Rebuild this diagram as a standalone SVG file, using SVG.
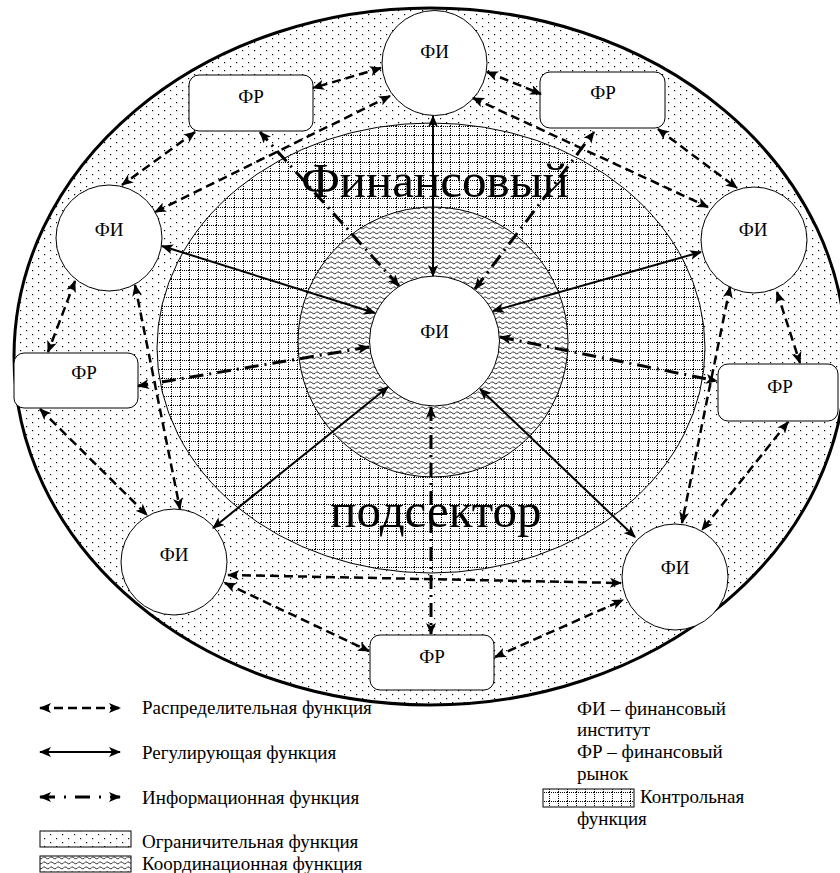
<svg xmlns="http://www.w3.org/2000/svg" width="840" height="873" viewBox="0 0 840 873">
<defs>
<pattern id="dots" width="12" height="8" patternUnits="userSpaceOnUse">
<rect width="12" height="8" fill="#fff"/>
<rect x="2" y="2" width="1.2" height="1.2" fill="#000"/>
<rect x="8" y="6" width="1.2" height="1.2" fill="#000"/>
</pattern>
<pattern id="grid" width="9" height="9" patternUnits="userSpaceOnUse">
<rect width="9" height="9" fill="#fff"/>
<path d="M0.5,0 V9 M0,0.5 H9" stroke="#000" stroke-width="1" stroke-dasharray="1 1" fill="none"/>
</pattern>
<pattern id="wave" width="7" height="5" patternUnits="userSpaceOnUse">
<rect width="7" height="5" fill="#fff"/>
<path d="M0,3.5 Q1.75,0.5 3.5,2.5 T7,3.5" stroke="#000" stroke-width="0.8" fill="none"/>
</pattern>
<marker id="ah" viewBox="0 0 12 10" refX="11" refY="5" markerWidth="12" markerHeight="10" markerUnits="userSpaceOnUse" orient="auto-start-reverse">
<path d="M0,0 L12,5 L0,10 L3,5 z" fill="#000"/>
</marker>
</defs>
<style>
.node{fill:#fff;stroke:#000;stroke-width:1}
text{font-family:'Liberation Serif','DejaVu Serif',serif;fill:#000}
.lbl{font-size:19px;text-anchor:middle}
.big{font-size:49px;text-anchor:middle}
.leg{font-size:19px}
.dash{fill:none;stroke:#000;stroke-width:2.5;stroke-dasharray:9 5;marker-start:url(#ah);marker-end:url(#ah)}
.solid{fill:none;stroke:#000;stroke-width:2;marker-start:url(#ah);marker-end:url(#ah)}
.dd{fill:none;stroke:#000;stroke-width:3;stroke-dasharray:14 6 2 6;marker-start:url(#ah);marker-end:url(#ah)}
</style>
<g id="background">
<ellipse cx="430" cy="356.5" rx="416" ry="348.5" fill="url(#dots)" stroke="#000" stroke-width="3"/>
<ellipse cx="431" cy="348" rx="274" ry="225" fill="url(#grid)" stroke="#000" stroke-width="1"/>
<circle cx="433" cy="342" r="135" fill="url(#wave)" stroke="#000" stroke-width="1"/>
<text class="big" x="435" y="197">Финансовый</text>
<text class="big" x="436" y="527">подсектор</text>
</g>
<g id="node-center"><circle class="node" cx="434.5" cy="341" r="65"/><text class="lbl" x="434.5" y="338">ФИ</text></g>
<g id="node-fi-top"><circle class="node" cx="434.5" cy="63" r="52.5"/><text class="lbl" x="434.5" y="58">ФИ</text></g>
<g id="node-fi-left"><circle class="node" cx="109" cy="238" r="53"/><text class="lbl" x="109" y="236">ФИ</text></g>
<g id="node-fi-right"><circle class="node" cx="754" cy="240" r="53"/><text class="lbl" x="753" y="236">ФИ</text></g>
<g id="node-fi-bl"><circle class="node" cx="174" cy="562" r="53"/><text class="lbl" x="174" y="561">ФИ</text></g>
<g id="node-fi-br"><circle class="node" cx="675" cy="577" r="53"/><text class="lbl" x="675" y="574">ФИ</text></g>
<g id="node-fr-tl"><rect class="node" x="189" y="75" width="124" height="56" rx="10"/><text class="lbl" x="251" y="103">ФР</text></g>
<g id="node-fr-tr"><rect class="node" x="540" y="72" width="125" height="56" rx="10"/><text class="lbl" x="603" y="99">ФР</text></g>
<g id="node-fr-l"><rect class="node" x="14" y="353" width="124" height="55" rx="10"/><text class="lbl" x="84" y="379">ФР</text></g>
<g id="node-fr-r"><rect class="node" x="718" y="364" width="120" height="57" rx="10"/><text class="lbl" x="780" y="393">ФР</text></g>
<g id="node-fr-b"><rect class="node" x="370" y="635" width="124" height="55" rx="10"/><text class="lbl" x="432" y="663">ФР</text></g>
<g id="connectors">
<line class="solid" x1="433" y1="276" x2="433" y2="116"/>
<line class="solid" x1="375" y1="313" x2="162" y2="246"/>
<line class="solid" x1="493" y1="311" x2="701" y2="252"/>
<line class="solid" x1="388" y1="387" x2="213" y2="528"/>
<line class="solid" x1="480" y1="389" x2="635" y2="537"/>
<line class="dd" x1="399" y1="286" x2="260" y2="132"/>
<line class="dd" x1="475" y1="289" x2="594" y2="132"/>
<line class="dd" x1="369" y1="347" x2="138" y2="386"/>
<line class="dd" x1="500" y1="337" x2="717" y2="381"/>
<line class="dd" x1="431" y1="407" x2="431" y2="634"/>
<line class="dash" x1="381" y1="68" x2="313" y2="88"/>
<line class="dash" x1="487" y1="72" x2="541" y2="94"/>
<line class="dash" x1="390" y1="96" x2="155" y2="212"/>
<line class="dash" x1="195" y1="132" x2="122" y2="185"/>
<line class="dash" x1="473" y1="98" x2="708" y2="207"/>
<line class="dash" x1="658" y1="129" x2="737" y2="188"/>
<line class="dash" x1="75" y1="281" x2="48" y2="352"/>
<line class="dash" x1="135" y1="285" x2="180" y2="509"/>
<line class="dash" x1="40" y1="409" x2="147" y2="515"/>
<line class="dash" x1="228" y1="575" x2="621" y2="583"/>
<line class="dash" x1="225" y1="583" x2="369" y2="651"/>
<line class="dash" x1="495" y1="657" x2="623" y2="600"/>
<line class="dash" x1="730" y1="287" x2="682" y2="523"/>
<line class="dash" x1="788" y1="422" x2="702" y2="530"/>
<line class="dash" x1="777" y1="292" x2="800" y2="363"/>
</g>
<g id="legend">
<line class="dash" x1="40" y1="708" x2="120" y2="708"/>
<text class="leg" x="142" y="714">Распределительная функция</text>
<line class="solid" x1="40" y1="752" x2="120" y2="752"/>
<text class="leg" x="142" y="759">Регулирующая функция</text>
<line class="dd" x1="40" y1="797" x2="120" y2="797" style="stroke-dasharray:15 9 2 9"/>
<text class="leg" x="142" y="804">Информационная функция</text>
<rect x="40" y="831" width="91" height="16" fill="url(#dots)" stroke="#000" stroke-width="1"/>
<text class="leg" x="142" y="848">Ограничительная функция</text>
<rect x="40" y="856" width="91" height="16" fill="url(#wave)" stroke="#000" stroke-width="1"/>
<text class="leg" x="142" y="870">Координационная функция</text>
<text class="leg" x="577" y="715">ФИ – финансовый</text>
<text class="leg" x="577" y="736">институт</text>
<text class="leg" x="577" y="758">ФР – финансовый</text>
<text class="leg" x="577" y="780">рынок</text>
<rect x="543" y="789" width="91" height="18" fill="url(#grid)" stroke="#000" stroke-width="1"/>
<text class="leg" x="640" y="803">Контрольная</text>
<text class="leg" x="577" y="825">функция</text>
</g>
</svg>
